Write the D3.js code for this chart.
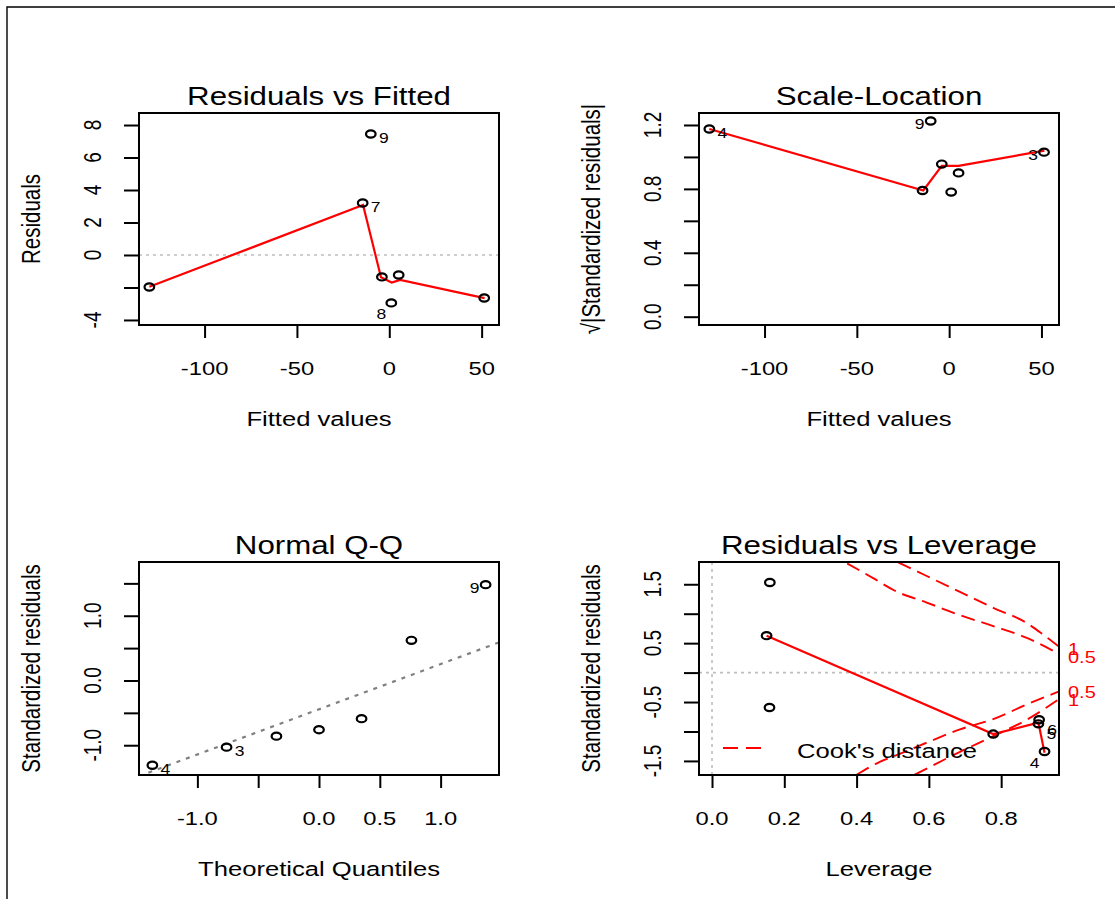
<!DOCTYPE html>
<html><head><meta charset="utf-8">
<script src="https://cdn.jsdelivr.net/npm/d3@7"></script>
<style>
body{margin:0;background:#fff}
svg{display:block}
text{font-family:"Liberation Sans",Arial,Helvetica,sans-serif;fill:#000}
</style>
</head><body>
<svg id="c" width="1115" height="899"></svg>
<script>
// ---------------- data ----------------
const obsIds          = ["3","4","5","6","7","8","9"];
const fittedValues    = [51.4, -129.9, -4.0, 5.1, -14.4, 1.1, -10.0];
const residualValues  = [-2.65, -1.97, -1.35, -1.23, 3.2, -2.95, 7.45];
const sqrtAbsStdResid = [1.03, 1.175, 0.955, 0.90, 0.79, 0.78, 1.225];
const leverageValues  = [0.778, 0.92, 0.903, 0.905, 0.151, 0.159, 0.160];
const stdResidLev     = [-1.044, -1.34, -0.87, -0.80, 0.627, -0.593, 1.53];

const qqObs         = ["4","3","5","6","8","7","9"];
const qqTheoretical = [-1.37, -0.76, -0.35, 0.0, 0.35, 0.76, 1.37];
const qqSample      = [-1.31, -1.03, -0.86, -0.76, -0.59, 0.62, 1.48];
const qqLineX       = [-1.48, 1.48];
const qqLineY       = [-1.478, 0.588];

const smoothFitX  = [-129.9, -14.2, -4.5, 1.3, 5.9, 51.6];
const smoothFitY  = [-1.96, 3.08, -1.37, -1.70, -1.54, -2.66];
const smoothSLX   = [-129.9, -14.0, -4.0, 5.1, 51.6];
const smoothSLY   = [1.175, 0.79, 0.944, 0.944, 1.04];
const smoothLevX  = [0.151, 0.778, 0.903, 0.92];
const smoothLevY  = [0.627, -1.044, -0.85, -1.36];

// Cook's distance contours
const cookHalfUpX = [0.374, 0.447, 0.506, 0.594, 0.686, 0.778, 0.871, 0.960];
const cookHalfUpY = [1.854, 1.600, 1.390, 1.190, 0.975, 0.790, 0.590, 0.317];
const cookOneUpX  = [0.515, 0.594, 0.686, 0.778, 0.871, 0.917, 0.960];
const cookOneUpY  = [1.871, 1.640, 1.370, 1.100, 0.840, 0.640, 0.440];
const cookHalfLoX = [0.400, 0.456, 0.502, 0.594, 0.686, 0.778, 0.871, 0.960];
const cookHalfLoY = [-1.734, -1.540, -1.424, -1.190, -0.965, -0.790, -0.540, -0.320];
const cookOneLoX  = [0.561, 0.594, 0.686, 0.778, 0.871, 0.960];
const cookOneLoY  = [-1.734, -1.630, -1.345, -1.080, -0.800, -0.450];
const cookLabels  = ["1", "0.5", "0.5", "1"];
const cookLabelY  = [0.40, 0.27, -0.33, -0.47];

// ticks
const fitTicks   = [-100, -50, 0, 50];
const fitLabels  = ["-100", "-50", "0", "50"];
const resTicks   = [-4, -2, 0, 2, 4, 6, 8];
const resLabels  = ["-4", "", "0", "2", "4", "6", "8"];
const slTicks    = [0, 0.2, 0.4, 0.6, 0.8, 1.0, 1.2];
const slLabels   = ["0.0", "", "0.4", "", "0.8", "", "1.2"];
const qqXTicks   = [-1.0, -0.5, 0, 0.5, 1.0];
const qqXLabels  = ["-1.0", "", "0.0", "0.5", "1.0"];
const qqYTicks   = [-1.0, -0.5, 0, 0.5, 1.0, 1.5];
const qqYLabels  = ["-1.0", "", "0.0", "", "1.0", ""];
const levXTicks  = [0, 0.2, 0.4, 0.6, 0.8];
const levXLabels = ["0.0", "0.2", "0.4", "0.6", "0.8"];
const levYTicks  = [-1.5, -1.0, -0.5, 0, 0.5, 1.0, 1.5];
const levYLabels = ["-1.5", "", "-0.5", "", "0.5", "", "1.5"];

// ---------------- drawing ----------------
const SX = 1.25;               // horizontal stretch of the reference
const FONT_TICK = 19, FONT_LAB = 20.5, FONT_MAIN = 25, FONT_ID = 14;
const svg = d3.select("#c");

function txt(g, x, y, s, o = {}) {
  const t = g.append("text")
    .attr("transform", `translate(${x},${y}) scale(${SX},1) rotate(${o.rot || 0})`)
    .attr("text-anchor", o.anchor || "middle")
    .style("font-size", (o.size || FONT_TICK) + "px")
    .text(s);
  if (o.fill) t.style("fill", o.fill);
  return t;
}

const offsets = {
  right: [13, 4], left: [-11, 3], belowLeft: [-10, 11], belowRight: [13, 10]
};

function panel(cfg) {
  const x = d3.scaleLinear().domain(cfg.xDomain).range([cfg.left, cfg.right]);
  const y = d3.scaleLinear().domain(cfg.yDomain).range([cfg.bottom, cfg.top]);
  const g = svg.append("g");
  const clipId = "clip" + cfg.id;
  svg.append("clipPath").attr("id", clipId).append("rect")
    .attr("x", cfg.left).attr("y", cfg.top)
    .attr("width", cfg.right - cfg.left).attr("height", cfg.bottom - cfg.top);
  const inner = g.append("g").attr("clip-path", `url(#${clipId})`);

  // axes
  const ax = g.append("g").attr("transform", `translate(0,${cfg.bottom})`)
    .call(d3.axisBottom(x).tickValues(cfg.xTicks).tickSize(13).tickSizeOuter(0).tickFormat(""));
  const ay = g.append("g").attr("transform", `translate(${cfg.left},0)`)
    .call(d3.axisLeft(y).tickValues(cfg.yTicks).tickSize(15).tickSizeOuter(0).tickFormat(""));
  [ax, ay].forEach(a => {
    a.select(".domain").remove();
    a.selectAll(".tick line").attr("stroke", "#000").attr("stroke-width", 2);
  });
  cfg.xTicks.forEach((v, i) => { if (cfg.xLabels[i]) txt(g, x(v), cfg.bottom + 50, cfg.xLabels[i]); });
  cfg.yTicks.forEach((v, i) => { if (cfg.yLabels[i]) txt(g, cfg.left - 38, y(v), cfg.yLabels[i], { rot: -90 }); });

  // titles
  txt(g, (cfg.left + cfg.right) / 2, cfg.top - 8, cfg.title, { size: FONT_MAIN });
  txt(g, (cfg.left + cfg.right) / 2, cfg.bottom + 101, cfg.xTitle, { size: FONT_LAB });
  txt(g, cfg.left - 99, (cfg.top + cfg.bottom) / 2, cfg.yTitle, { size: FONT_LAB, rot: -90 });

  cfg.draw(inner, g, x, y);

  // box
  g.append("rect").attr("x", cfg.left).attr("y", cfg.top)
    .attr("width", cfg.right - cfg.left).attr("height", cfg.bottom - cfg.top)
    .attr("fill", "none").attr("stroke", "#000").attr("stroke-width", 2);
}

function points(g, x, y, xs, ys) {
  g.selectAll(null).data(xs).enter().append("ellipse")
    .attr("cx", (d) => x(d)).attr("cy", (d, i) => y(ys[i]))
    .attr("rx", 4.8).attr("ry", 3.6)
    .attr("fill", "none").attr("stroke", "#000").attr("stroke-width", 2.2);
}
function polyline(g, x, y, xs, ys, stroke, width, dash, curve) {
  const line = d3.line().curve(curve || d3.curveLinear).x(d => x(d[0])).y(d => y(d[1]));
  const p = g.append("path").datum(xs.map((v, i) => [v, ys[i]]))
    .attr("d", line).attr("fill", "none").attr("stroke", stroke).attr("stroke-width", width);
  if (dash) p.attr("stroke-dasharray", dash);
  return p;
}
function idLabels(g, x, y, xs, ys, ids, spec) {
  spec.forEach(([id, pos]) => {
    const i = ids.indexOf(id);
    const [dx, dy] = offsets[pos];
    txt(g, x(xs[i]) + dx, y(ys[i]) + dy + 5, id, { size: FONT_ID });
  });
}
function hGuide(g, x, y, v, dom, color, dash) {
  g.append("line").attr("x1", x(dom[0])).attr("x2", x(dom[1]))
    .attr("y1", y(v)).attr("y2", y(v))
    .attr("stroke", color).attr("stroke-width", 1.6).attr("stroke-dasharray", dash);
}

// Panel 1: Residuals vs Fitted
panel({
  id: 1, left: 139, right: 499, top: 113, bottom: 325,
  xDomain: [-135.5, 59.4], yDomain: [-4.31, 8.74],
  xTicks: fitTicks, xLabels: fitLabels, yTicks: resTicks, yLabels: resLabels,
  title: "Residuals vs Fitted", xTitle: "Fitted values", yTitle: "Residuals",
  draw: (inner, g, x, y) => {
    hGuide(inner, x, y, 0, x.domain(), "#bebebe", "3,4");
    polyline(inner, x, y, smoothFitX, smoothFitY, "#ff0000", 2.2);
    points(g, x, y, fittedValues, residualValues);
    idLabels(g, x, y, fittedValues, residualValues, obsIds,
      [["9", "right"], ["7", "right"], ["8", "belowLeft"]]);
  }
});

// Panel 2: Scale-Location
panel({
  id: 2, left: 699, right: 1059, top: 113, bottom: 325,
  xDomain: [-135.5, 59.5], yDomain: [-0.052, 1.275],
  xTicks: fitTicks, xLabels: fitLabels, yTicks: slTicks, yLabels: slLabels,
  title: "Scale-Location", xTitle: "Fitted values", yTitle: "√|Standardized residuals|",
  draw: (inner, g, x, y) => {
    polyline(inner, x, y, smoothSLX, smoothSLY, "#ff0000", 2.2);
    points(g, x, y, fittedValues, sqrtAbsStdResid);
    idLabels(g, x, y, fittedValues, sqrtAbsStdResid, obsIds,
      [["4", "right"], ["9", "left"], ["3", "left"]]);
  }
});

// Panel 3: Normal Q-Q
panel({
  id: 3, left: 139, right: 499, top: 562, bottom: 775,
  xDomain: [-1.48, 1.48], yDomain: [-1.46, 1.83],
  xTicks: qqXTicks, xLabels: qqXLabels, yTicks: qqYTicks, yLabels: qqYLabels,
  title: "Normal Q-Q", xTitle: "Theoretical Quantiles", yTitle: "Standardized residuals",
  draw: (inner, g, x, y) => {
    polyline(inner, x, y, qqLineX, qqLineY, "#808080", 2.2, "4,6");
    points(g, x, y, qqTheoretical, qqSample);
    idLabels(g, x, y, qqTheoretical, qqSample, qqObs,
      [["4", "right"], ["3", "right"], ["9", "left"]]);
  }
});

// Panel 4: Residuals vs Leverage
panel({
  id: 4, left: 699, right: 1059, top: 562, bottom: 775,
  xDomain: [-0.036, 0.96], yDomain: [-1.739, 1.878],
  xTicks: levXTicks, xLabels: levXLabels, yTicks: levYTicks, yLabels: levYLabels,
  title: "Residuals vs Leverage", xTitle: "Leverage", yTitle: "Standardized residuals",
  draw: (inner, g, x, y) => {
    hGuide(inner, x, y, 0, x.domain(), "#bebebe", "3,4");
    inner.append("line").attr("x1", x(0)).attr("x2", x(0))
      .attr("y1", y(y.domain()[0])).attr("y2", y(y.domain()[1]))
      .attr("stroke", "#bebebe").attr("stroke-width", 1.6).attr("stroke-dasharray", "3,4");
    const dash = "14,7";
    polyline(inner, x, y, cookHalfUpX, cookHalfUpY, "#ff0000", 1.9, dash, d3.curveMonotoneX);
    polyline(inner, x, y, cookOneUpX, cookOneUpY, "#ff0000", 1.9, dash, d3.curveMonotoneX);
    polyline(inner, x, y, cookHalfLoX, cookHalfLoY, "#ff0000", 1.9, dash, d3.curveMonotoneX);
    polyline(inner, x, y, cookOneLoX, cookOneLoY, "#ff0000", 1.9, dash, d3.curveMonotoneX);
    polyline(inner, x, y, smoothLevX, smoothLevY, "#ff0000", 2.2);
    points(g, x, y, leverageValues, stdResidLev);
    idLabels(g, x, y, leverageValues, stdResidLev, obsIds,
      [["6", "belowRight"], ["5", "belowRight"], ["4", "belowLeft"]]);
    // Cook's distance labels on the right side
    cookLabels.forEach((s, i) => txt(g, 1068, y(cookLabelY[i]) + 6, s, { size: 16, anchor: "start", fill: "#ff0000" }));
    // legend
    g.append("line").attr("x1", 723).attr("x2", 764).attr("y1", 748).attr("y2", 748)
      .attr("stroke", "#ff0000").attr("stroke-width", 1.9).attr("stroke-dasharray", "15,8");
    txt(g, 797, 758, "Cook's distance", { size: FONT_LAB, anchor: "start" });
  }
});

// outer frame (cropped device border)
svg.append("path").attr("d", "M7,899 V7 H1115").attr("fill", "none")
  .attr("stroke", "#000").attr("stroke-width", 1.4);
</script>
</body></html>
